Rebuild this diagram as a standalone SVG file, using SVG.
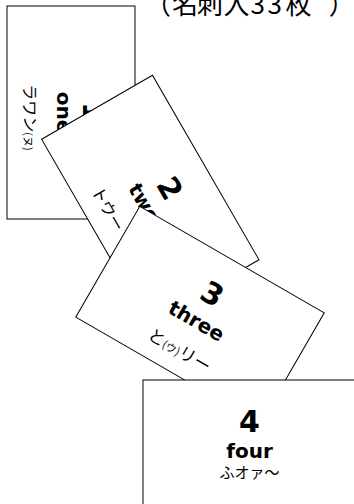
<svg xmlns="http://www.w3.org/2000/svg" width="354" height="504" viewBox="0 0 354 504">
<style>
.card{fill:#fff;stroke:#000;stroke-width:1}
.num{font-family:"DejaVu Sans",sans-serif;font-weight:bold;font-size:30px;text-anchor:middle;fill:#000}
.word{font-family:"DejaVu Sans",sans-serif;font-weight:bold;font-size:20px;text-anchor:middle;fill:#000}
.kana{font-family:"Noto Sans CJK JP",sans-serif;font-size:16px;text-anchor:middle;fill:#000}
.small{font-size:11px}
.title{font-family:"Noto Sans CJK JP",sans-serif;font-size:26px;fill:#000}
</style>
<g id="title"><text class="title" x="145 172 197 223.5 250.5 267.5 285.4 328.7" y="13.5">（名刺入33枚）</text></g>
<g id="card1" transform="translate(71,112.5) rotate(90)">
<rect class="card" x="-106.5" y="-64" width="213" height="128"/>
<text class="num" y="-12">1</text>
<text class="word" y="14">one</text>
<text class="kana" x="5" y="47">ラワン<tspan class="small">(ヌ)</tspan></text>
</g>
<g id="card2" transform="translate(150.3,199.5) rotate(60)">
<rect class="card" x="-106.5" y="-64" width="213" height="128"/>
<text class="num" y="-12">2</text>
<text class="word" y="14">two</text>
<text class="kana" x="-37" y="47" style="text-anchor:start">トウー</text>
</g>
<g id="card3" transform="translate(200,315) rotate(30)">
<rect class="card" x="-106.5" y="-64" width="213" height="128"/>
<text class="num" y="-14">3</text>
<text class="word" y="14">three</text>
<text class="kana" y="47" style="font-size:17px">と<tspan class="small">(ウ)</tspan>リー</text>
</g>
<g id="card4" transform="translate(249.5,444)">
<rect class="card" x="-106.5" y="-64" width="213" height="128"/>
<text class="num" y="-12">4</text>
<text class="word" y="14">four</text>
<text class="kana" y="34" style="font-size:15px">ふオァ～</text>
</g>
</svg>
